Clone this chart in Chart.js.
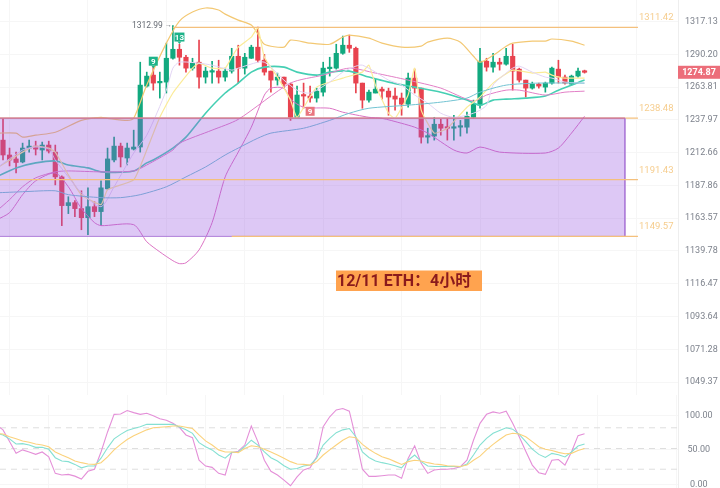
<!DOCTYPE html>
<html>
<head>
<meta charset="utf-8">
<script src="https://cdn.jsdelivr.net/npm/chart.js@4/dist/chart.umd.min.js"></script>
<style>
  html, body { margin: 0; background: #fff; }
  canvas { position: absolute; left: 0; }
</style>
</head>
<body>
<canvas id="price" width="720" height="395" style="top:0"></canvas>
<canvas id="osc" width="720" height="93" style="top:395px"></canvas>
<script>
const UP = '#12a97f', DOWN = '#e8434f', GRID = '#f6f6f6', TICK = '#7d828c', FIB = '#f6cd8e', FIB_LINE = '#f4c07c';
const X_MIN = -0.46, X_MAX = 103.3, FIB_END = 97.17, BOX_END = 95.18;

// open, high, low, close
const candles = [
  [1221.5,1238.4,1206.3,1210.1],[1210.1,1215.4,1201.8,1206.3],[1207.1,1212.3,1196.5,1204.4],[1204.8,1219.2,1204.1,1215.4],
  [1215.4,1221.5,1212.3,1216.9],[1216.9,1220.7,1210.1,1214.6],[1213.9,1220,1206.3,1217.7],[1217.7,1220.7,1211.6,1213.1],
  [1212.3,1217.7,1187.5,1193.5],[1193.5,1194.3,1157.4,1172.1],[1172.1,1178.7,1166.2,1174.3],[1174.3,1175.8,1164,1169.9],
  [1169.9,1183.1,1154.4,1163.2],[1163.2,1185.3,1150.8,1171.3],[1171.3,1175,1164,1167.7],[1167.7,1190.5,1157.4,1185.3],
  [1184.6,1215.4,1183.9,1207.1],[1206.3,1223.8,1204.8,1216.9],[1216.9,1219.2,1201,1208.6],[1207.8,1219.2,1202.5,1215.4],
  [1214.6,1229.2,1213.9,1216.2],[1216.2,1283,1212.3,1264.6],[1263.8,1275,1263,1271.8],[1272.6,1279,1260.6,1266.2],
  [1266.4,1275,1254.3,1267],[1267,1298.5,1258.3,1286.2],[1286.2,1312.99,1285.4,1293.5],[1293.5,1297.6,1280.6,1287],
  [1287,1288.6,1275,1278.2],[1278.2,1286.2,1276.6,1282.2],[1283,1301,1262.2,1271],[1271,1279,1266.2,1275.8],
  [1275,1283.8,1266.2,1275.8],[1275.8,1284.6,1266.2,1271],[1271,1278.2,1267.8,1275.8],[1275.8,1294.3,1274.2,1287.8],
  [1287.8,1296.8,1266.2,1278.2],[1278.2,1290.2,1273.4,1287],[1286.2,1296.8,1286,1295.2],[1295.2,1311.7,1283,1284.6],
  [1284.6,1289.4,1272.6,1275],[1275.8,1275.8,1259,1268.6],[1268.6,1274.2,1264.6,1271],[1271,1271,1262.2,1265.4],
  [1265.4,1266.2,1236.8,1239.2],[1239.2,1263.8,1239.2,1256.7],[1256.7,1266.2,1246.3,1255.9],[1255.9,1263.8,1251.1,1254.3],
  [1254.3,1262.2,1251.1,1259.8],[1259,1283,1255.9,1278.2],[1277.8,1287,1271.8,1279],[1278.2,1297.6,1277.4,1290.2],
  [1290.2,1304.3,1289.4,1296.8],[1296.8,1305.1,1291,1294.3],[1294.3,1295.2,1258.3,1266.2],[1266.2,1266.2,1246.3,1252.7],
  [1252.7,1260.6,1251.1,1259],[1258.3,1269.4,1258.3,1261.4],[1261.4,1263,1253.5,1259.8],[1259.8,1262.2,1240.8,1255.1],
  [1255.9,1262.2,1244.8,1253.5],[1254.3,1258.3,1240.8,1249.5],[1249.5,1274.2,1247.1,1270.2],[1270.2,1277.4,1258.3,1262.2],
  [1262.2,1262.2,1219.2,1223.8],[1223.8,1230.7,1219.2,1224.6],[1224.6,1239.2,1221.5,1233.8],[1233.8,1237.6,1225.3,1230.7],
  [1231.5,1238.4,1221.5,1230.7],[1230.7,1240.8,1221.5,1231.5],[1231.5,1236.8,1224.6,1232.2],[1231.5,1243.2,1226.9,1240],
  [1239.2,1252.7,1238.4,1249.5],[1248.7,1294.3,1246.3,1283.8],[1283.8,1286.2,1275.8,1279],[1279,1290.2,1275,1283],
  [1283,1286.2,1276.6,1281.4],[1281.4,1294.3,1280.6,1287.8],[1287.8,1297.6,1260.6,1275.8],[1277.4,1278.2,1267,1268.6],
  [1268.6,1268.6,1255.1,1262.2],[1262.2,1267,1261.4,1265.4],[1265.4,1266.2,1262.2,1263.8],[1263,1267,1259,1266.2],
  [1266.2,1279,1265.4,1278.2],[1277.4,1284.6,1266.2,1271],[1271,1272.6,1265.4,1266.2],[1265.4,1272.6,1264.6,1271.8],
  [1271.8,1278.2,1271,1275.8],[1275.8,1276.6,1274.2,1274.87],
];

const bandUpper = [[-1,1226.9],[2,1226.9],[3,1223.8],[5,1225.3],[8,1227.6],[12,1236.8],[15,1239.2],[16,1238.4],[19,1236.8],[20,1238.4],
  [22,1264.6],[25,1298.5],[27,1316.7],[29,1324.2],[31,1327.6],[33,1325.9],[34,1322.5],[36,1317.5],[38,1313.4],[39,1306],[40,1297.6],
  [43,1295.2],[44,1301],[47,1298.5],[50,1297.6],[52,1303.5],[53,1305.1],[56,1302.6],[58,1298.5],[61,1295.2],[64,1296],[65,1299.3],
  [68,1302.6],[70,1299.3],[72,1287.8],[73,1283],[75,1288.6],[77,1296],[78,1298.5],[81,1300.2],[83,1300.2],[84,1301.9],[87,1300.2],[89,1296.8]];
const bandLower = [[-1,1161.5],[1,1166.9],[3,1180.2],[5,1190.5],[8,1196.5],[10,1186.1],[12,1169.9],[14,1159.6],[15,1157.4],[20,1158.1],
  [22,1145.7],[24,1138.4],[26,1132.1],[27,1130],[28,1130.6],[30,1139.8],[32,1159.6],[34,1193.5],[36,1212.3],[38,1231.5],[40,1256.7],
  [41,1262.2],[43,1262.2],[44,1253.5],[46,1247.1],[50,1246.3],[52,1243.2],[56,1239.2],[58,1238.4],[61,1234.5],[63,1231.5],[65,1226.9],
  [69,1213.9],[71,1211.6],[73,1216.2],[76,1212.3],[83,1211.6],[85,1215.4],[87,1226.9],[89,1240]];
const maFast = [[-1,1200],[3,1213.9],[5,1216.2],[7,1214.6],[8,1206.3],[10,1193.5],[12,1181.6],[15,1171.3],[17,1186.1],[20,1211.6],
  [22,1225.3],[25,1260.6],[26,1278.2],[27,1283],[30,1282.2],[32,1280.6],[35,1276.6],[36,1278.2],[39,1283],[40,1283],[41,1279],[43,1268.6],
  [45,1260.6],[47,1258.3],[50,1267],[52,1275],[54,1279.8],[55,1280.6],[57,1275],[59,1268.6],[61,1264.6],[63,1256.7],[65,1250.3],[67,1242.4],
  [69,1239.2],[72,1242.4],[74,1248.7],[75,1264.6],[77,1274.2],[78,1278.2],[79,1279.8],[81,1275],[83,1271],[84,1270.2],[86,1267],[89,1266.2]];
const maYellow = [[-1,1200],[3,1212.3],[5,1216.9],[7,1215.4],[8,1212.3],[10,1195],[12,1180.2],[15,1172.8],[16,1183.9],[20,1191.3],
  [22,1213.9],[24,1239.2],[26,1258.3],[29,1278.2],[30,1282.2],[32,1278.2],[34,1278.2],[35,1287],[36,1295.2],[38,1303.4],[39,1311],[40,1287],
  [42,1271],[44,1252.7],[45,1239.2],[48,1263],[52,1270.2],[55,1275],[56,1280.6],[57,1264.6],[59,1242.4],[60,1238.4],[62,1256.7],[63,1278.2],
  [64,1244.8],[66,1226.9],[68,1230.7],[71,1247.1],[73,1255.1],[75,1266.2],[78,1276.6],[81,1274.2],[83,1275],[84,1272.6],[86,1270.2],[89,1270.2]];
const maTeal = [[-1,1193.5],[2,1200.3],[5,1204.1],[8,1205.6],[10,1202.5],[13,1200.3],[15,1197.3],[20,1198],[22,1204.1],[23,1206.3],[26,1215.4],
  [28,1223.8],[31,1242.4],[34,1258.3],[36,1266.2],[38,1275],[40,1279],[43,1279],[45,1275],[48,1272.6],[50,1275],[53,1275.8],[56,1271],[59,1267],
  [63,1263],[67,1259],[71,1252.7],[73,1248.7],[75,1252.7],[77,1253.5],[80,1254.3],[83,1255.9],[85,1260.6],[89,1268.6]];
const maPink = [[-1,1168],[1,1176.5],[3,1186.1],[5,1192.8],[8,1197.3],[10,1198],[15,1197.3],[20,1198],[22,1202.5],[26,1213.9],[27,1219.2],
  [32,1229.2],[36,1237.6],[44,1266.2],[49,1272.6],[53,1278.2],[57,1274.2],[62,1268.6],[67,1262.2],[72,1251.9],[74,1256.7],[77,1260.6],[79,1260.6],
  [83,1256.7],[86,1259],[89,1259.8]];
const maBlue = [[-1,1181.6],[3,1182.4],[8,1183.1],[10,1180.2],[15,1178],[18,1178],[21,1180.2],[25,1186.1],[28,1193.5],[31,1201],[34,1210.1],[36,1215.4],
  [39,1223],[41,1226.9],[46,1230.7],[50,1236.8],[53,1242.4],[56,1246.3],[62,1248.7],[67,1251.1],[71,1254.3],[73,1259],[77,1264.6],[82,1266.2],[89,1266.2]];

// first value of each belongs to index -1
const oscJ = [84,77,60,43,48,45,41.5,45,38,14,11.6,12.5,10,5.8,17,20,45,74,99.5,100,105,102,99.5,101,97.6,93,91,86.5,80.7,69.6,65.7,33,24.6,22.7,14,11.6,44,46,
  55,82.6,60,33,17,11.6,4.3,-3.9,9,19,22,38,81.6,96,105.8,108,104,64.7,20,9.7,9.7,10.6,11.6,11.6,6.8,35.7,54,28.5,14,19,20,20,21,23.7,33,62,
  86.5,99.5,103,101,104,86.5,67,46,26,15,12.5,33,34,26,45,68.6,71.5];
const oscK = [72,69.6,64,56.5,57,55,51.7,51.7,48.8,36.7,32,31,27,22,24.6,24.6,36,51,64,70.5,76,79,81.6,85,85,85,85,85,81,77,72,58.5,52.6,48,40.6,36,44.4,45,
  52.6,62,55,45,36.7,32,25,20,21,24.6,26,36,55,64.7,73,77,79,67,45,37,32,29.5,27.5,25,22,33,40.6,31,24.6,24,24,24,24,23.7,27.5,40.6,
  55,64.7,72,76,80,78,70.5,60,49,41.5,37,43,41,37.7,45,53.6,56.5];
const oscD = [72,71,67,64,61,59,56.5,55,52.6,45,40.6,36.7,32,29.5,27.5,27,29.5,38,48,56,63,68.6,73,77,80,80.7,81.6,82.6,82.6,80.7,79,69.6,61,55,48,45,45,44,
  50,54,52.6,49,45,40.6,36,31,27.5,27,26,31,40.6,48,55,62,67,65.7,56,49,43,38,35,31,27,31,33,32,29.5,27.5,26.6,25,24.6,24,26,33,
  39,48,56,63,69.6,72,71,67,60,52.6,49,47,44.4,42.5,43,47,50];

const priceTicks = [1317.13,1290.20,1263.81,1237.97,1212.66,1187.86,1163.57,1139.78,1116.47,1093.64,1071.28,1049.37];
const oscTicks = [100, 50, 0];
const fibLevels = [
  { value: 1311.42, from: 26, order: -2 },
  { value: 1238.48, from: X_MIN, order: 2 },
  { value: 1191.43, from: X_MIN, order: -2 },
  { value: 1149.57, from: 35, order: -2 },
];
const markers = [
  { i: 23, price: 1283.8, text: '9', color: '#1db389', w: 9, tail: true },
  { i: 27, price: 1303.5, text: '13', color: '#1db389', w: 10, tail: true },
  { i: 47, price: 1243.9, text: '9', color: '#e9757f', w: 9, tail: false },
];
const LAST_PRICE = 1274.87;
const HIGH = { i: 26, price: 1312.99 };

const toPoints = rows => rows.map(p => ({ x: p[0], y: p[1] }));
const overlay = (rows, color, width, tension = 0.25) => ({
  type: 'line', data: toPoints(rows), borderColor: color, borderWidth: width,
  pointRadius: 0, tension, order: 1,
});
const flatLine = (value, from, to, color, width, order, dash) => ({
  type: 'line', data: [{ x: from, y: value }, { x: to, y: value }], borderColor: color,
  borderWidth: width, borderDash: dash || [], pointRadius: 0, order,
});
const candleColors = candles.map(c => (c[3] >= c[0] ? UP : DOWN));

const gridTicks = [7, 19, 31, 43, 55, 67, 79, 91, 103];
const xScale = {
  type: 'linear', min: X_MIN, max: X_MAX, offset: false,
  afterBuildTicks(scale) { scale.ticks = gridTicks.map(value => ({ value })); },
  afterFit(scale) { scale.height = 0; scale.paddingLeft = 0; scale.paddingRight = 0; },
  grid: { color: GRID, drawTicks: false },
  border: { display: false },
  ticks: { display: false },
};
// tick labels sit a pixel low in the source, so tick positions are nudged by `nudge`
const yAxis = (extra, values, nudge) => ({
  position: 'right',
  afterBuildTicks(scale) { scale.ticks = values.map(v => ({ value: nudge(v) })); },
  // full-height plot: the end labels must not squeeze the chart area
  afterFit(scale) { scale.width = 42; scale.paddingTop = 0; scale.paddingBottom = 0; },
  grid: { color: GRID, drawTicks: false },
  border: { color: '#eeeeee' },
  ticks: {
    color: TICK, padding: 7, autoSkip: false, crossAlign: 'center',
    font: { family: 'Roboto', size: 9 }, callback: (v, i) => values[i].toFixed(2),
  },
  ...extra,
});
const baseOpts = {
  responsive: false, animation: false, layout: { padding: 0, autoPadding: false },
  plugins: { legend: { display: false }, tooltip: { enabled: false }, title: { display: false } },
};

const priceLabels = {
  id: 'priceLabels',
  afterDraw(chart) {
    const { ctx, scales: { x, y }, chartArea } = chart;
    ctx.save();
    ctx.textBaseline = 'middle';

    ctx.font = '9.5px Roboto';
    ctx.fillStyle = FIB;
    ctx.textAlign = 'left';
    fibLevels.forEach(l => ctx.fillText(l.value.toFixed(2), 639, y.getPixelForValue(l.value) - 9.5));

    const hx = x.getPixelForValue(HIGH.i), hy = y.getPixelForValue(HIGH.price);
    ctx.font = '8.5px Roboto';
    ctx.fillStyle = '#666b73';
    ctx.textAlign = 'right';
    ctx.fillText(HIGH.price.toFixed(2), hx - 10, hy);
    ctx.font = '7px Roboto';
    ctx.textAlign = 'left';
    ctx.fillText('→', hx - 8, hy);

    markers.forEach(m => {
      const cx = x.getPixelForValue(m.i), cy = y.getPixelForValue(m.price);
      ctx.fillStyle = m.color;
      ctx.fillRect(cx - m.w / 2, cy - 4.5, m.w, 9);
      if (m.tail) {
        ctx.beginPath();
        ctx.moveTo(cx - 2, cy + 4.5);
        ctx.lineTo(cx, cy + 7);
        ctx.lineTo(cx + 2, cy + 4.5);
        ctx.fill();
      }
      ctx.fillStyle = '#fff';
      ctx.textAlign = 'center';
      ctx.font = 'bold 8px Roboto';
      ctx.fillText(m.text, cx, cy + 0.5);
    });

    const py = y.getPixelForValue(LAST_PRICE);
    ctx.fillStyle = '#ec6e7a';
    ctx.fillRect(chartArea.right, py - 6.5, 42, 13);
    ctx.fillStyle = '#fff';
    ctx.font = 'bold 9px Roboto';
    ctx.fillText(LAST_PRICE.toFixed(2), 699, py + 0.5);

    ctx.fillStyle = '#ffa34f';
    ctx.fillRect(336, 270.5, 146, 20.5);
    ctx.fillStyle = '#8a1a1c';
    ctx.textAlign = 'left';
    ctx.font = 'bold 16px Roboto, "Noto Sans CJK SC"';
    ctx.fillText('12/11 ETH：4小时', 337, 281.5);
    ctx.restore();
  },
};

new Chart(document.getElementById('price'), {
  type: 'bar',
  data: {
    datasets: [
      // candle wicks and bodies go underneath, the zone tints them
      { data: candles.map((c, i) => ({ x: i, y: [c[2], c[1]] })), backgroundColor: candleColors, barThickness: 1, grouped: false, order: 4 },
      { data: candles.map((c, i) => ({ x: i, y: [c[0], c[3]] })), backgroundColor: candleColors, barThickness: 4.5, minBarLength: 1.5, grouped: false, order: 3 },
      overlay(maBlue, '#72c3d2', 1),
      overlay(maFast, '#e2d4f4', 1),
      overlay(maYellow, '#fbeb98', 1.2, 0.15),
      overlay(bandLower, '#dc74c4', 1),
      overlay(maPink, '#e27fc6', 1),
      overlay(maTeal, '#45cfb3', 1.6),
      overlay(bandUpper, '#f3c873', 1.2),
      {
        type: 'line', data: [{ x: X_MIN, y: 1238.48 }, { x: BOX_END, y: 1238.48 }], borderColor: '#c76f9c', borderWidth: 1.2,
        pointRadius: 0, fill: { value: 1149.57 }, backgroundColor: 'rgba(150,85,225,0.32)', order: -1,
      },
      { type: 'line', data: [{ x: BOX_END, y: 1238.48 }, { x: BOX_END, y: 1149.57 }, { x: X_MIN, y: 1149.57 }], borderColor: '#b58ad8', borderWidth: 1, pointRadius: 0, order: -1 },
      ...fibLevels.map(l => flatLine(l.value, l.from, FIB_END, FIB_LINE, 1.2, l.order)),
    ],
  },
  options: {
    ...baseOpts,
    scales: {
      x: xScale,
      y: yAxis({ type: 'logarithmic', min: 1040.2, max: 1334.3, bounds: 'data' }, priceTicks, v => v * (1 - 1 / 1586)),
    },
  },
  plugins: [priceLabels],
});

const oscLine = (values, color) => ({
  data: values.map((y, i) => ({ x: i - 1, y })), borderColor: color, borderWidth: 1.1, pointRadius: 0,
});
new Chart(document.getElementById('osc'), {
  type: 'line',
  data: {
    datasets: [
      oscLine(oscD, '#fbd27c'),
      oscLine(oscK, '#85e0d2'),
      oscLine(oscJ, '#e48fd8'),
      ...[80, 50, 20].map(v => flatLine(v, X_MIN, X_MAX, '#dedede', 1, 5, [6, 5])),
    ],
  },
  options: {
    ...baseOpts,
    scales: {
      x: xScale,
      y: yAxis({ type: 'linear', min: -7.2, max: 127.5 }, oscTicks, v => v - 2),
    },
  },
});
</script>
</body>
</html>
